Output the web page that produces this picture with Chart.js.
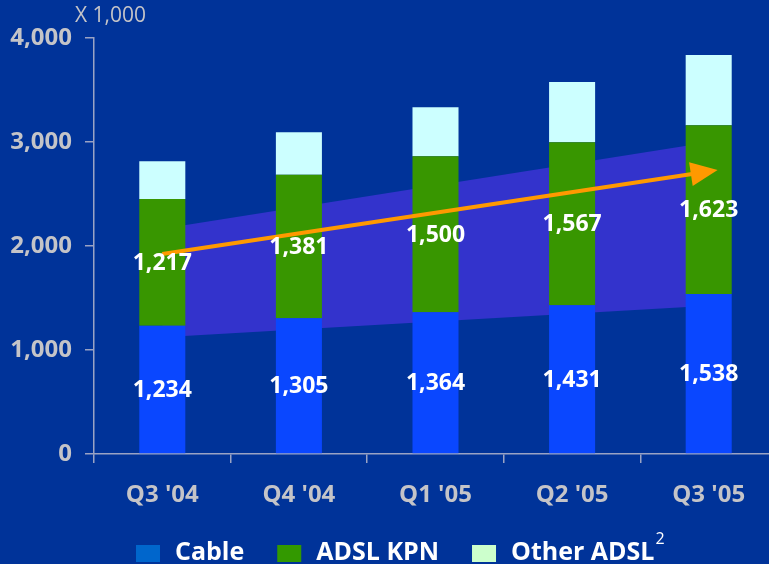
<!DOCTYPE html>
<html>
<head>
<meta charset="utf-8">
<script src="https://cdn.jsdelivr.net/npm/chart.js@4"></script>
<style>
    html, body { margin: 0; padding: 0; background: #003399; overflow: hidden; }
    #wrap { width: 800px; height: 564px; }
</style>
</head>
<body>
<div id="wrap"><canvas id="chart" width="800" height="564"></canvas></div>
<script>
const quarters = ["Q3 '04", "Q4 '04", "Q1 '05", "Q2 '05", "Q3 '05"];
const cable = [1234, 1305, 1364, 1431, 1538];
const adslKpn = [1217, 1381, 1500, 1567, 1623];
const otherAdsl = [363, 408, 471, 578, 675];
const yTicks = [0, 1000, 2000, 3000, 4000];

// growth band and trend arrow, from first to last quarter
const bandTop = [2167, 2998];
const bandBottom = [1122, 1426];
const trend = [1923, 2717];

const FONT = "'Open Sans', 'DejaVu Sans', sans-serif";
const GREY = '#c4c4c8';
const AXIS = '#9aa3c4';

function ends(values) {
    return [
        { x: quarters[0], y: values[0] },
        { x: quarters[quarters.length - 1], y: values[1] }
    ];
}

const valueLabels = {
    id: 'valueLabels',
    afterDatasetsDraw(chart) {
        const ctx = chart.ctx;
        ctx.save();
        ctx.font = `bold 23px ${FONT}`;
        ctx.fillStyle = '#ffffff';
        ctx.textAlign = 'center';
        ctx.textBaseline = 'middle';
        [0, 1].forEach(i => {
            const meta = chart.getDatasetMeta(i);
            meta.data.forEach((bar, j) => {
                const v = chart.data.datasets[i].data[j];
                ctx.fillText(v.toLocaleString('en-US'), bar.x, (bar.y + bar.base) / 2 + 1);
            });
        });
        ctx.restore();
    }
};

const arrowHead = {
    id: 'arrowHead',
    afterDatasetsDraw(chart) {
        const idx = chart.data.datasets.findIndex(d => d.label === 'trend');
        const pts = chart.getDatasetMeta(idx).data;
        const a = pts[0], b = pts[pts.length - 1];
        const ang = Math.atan2(b.y - a.y, b.x - a.x);
        const ctx = chart.ctx;
        const tipX = b.x + Math.cos(ang) * 9, tipY = b.y + Math.sin(ang) * 9;
        const len = 27, half = 12;
        const bx = tipX - Math.cos(ang) * len, by = tipY - Math.sin(ang) * len;
        ctx.save();
        ctx.fillStyle = '#ff9900';
        ctx.beginPath();
        ctx.moveTo(tipX, tipY);
        ctx.lineTo(bx - Math.sin(ang) * half, by + Math.cos(ang) * half);
        ctx.lineTo(bx + Math.sin(ang) * half, by - Math.cos(ang) * half);
        ctx.closePath();
        ctx.fill();
        ctx.restore();
    }
};

const extras = {
    id: 'extras',
    afterDraw(chart) {
        const ctx = chart.ctx;
        ctx.save();
        // unit note
        ctx.font = `21px ${FONT}`;
        ctx.fillStyle = GREY;
        ctx.textBaseline = 'middle';
        ctx.fillText('X 1,000', 75, 16);

        // legend
        const items = chart.data.datasets.filter(d => d.legendColor);
        let x = 136;
        const y = 553;
        items.forEach(d => {
            ctx.fillStyle = d.legendColor;
            ctx.fillRect(x, y - 8, 24, 17);
            x += 39;
            ctx.fillStyle = '#ffffff';
            ctx.font = `bold 25px ${FONT}`;
            ctx.fillText(d.label, x, y);
            x += ctx.measureText(d.label).width;
            if (d.note) {
                ctx.font = `16px ${FONT}`;
                ctx.fillText(d.note, x + 1, y - 14);
                x += ctx.measureText(d.note).width + 1;
            }
            x += 33;
        });
        ctx.restore();
    }
};

new Chart(document.getElementById('chart'), {
    type: 'bar',
    data: {
        labels: quarters,
        datasets: [
            {
                label: 'Cable', data: cable, backgroundColor: '#0a47ff',
                legendColor: '#0066cc', stack: 'bars', order: 1
            },
            {
                label: 'ADSL KPN', data: adslKpn, backgroundColor: '#389600',
                legendColor: '#339900', stack: 'bars', order: 1
            },
            {
                label: 'Other ADSL', note: '2', data: otherAdsl, backgroundColor: '#ccffff',
                legendColor: '#ccffcc', stack: 'bars', order: 1
            },
            {
                type: 'line', label: 'bandTop', data: ends(bandTop), stack: 'bandTop',
                borderWidth: 0, pointRadius: 0, fill: '+1', backgroundColor: '#3333cc', order: 2
            },
            {
                type: 'line', label: 'bandBottom', data: ends(bandBottom), stack: 'bandBottom',
                borderWidth: 0, pointRadius: 0, fill: false, order: 2
            },
            {
                type: 'line', label: 'trend', data: ends(trend), stack: 'trend',
                borderColor: '#ff9900', borderWidth: 4, pointRadius: 0, fill: false, order: 0
            }
        ]
    },
    options: {
        responsive: false,
        animation: false,
        devicePixelRatio: 1,
        layout: { padding: { top: 38, right: 23, left: 0, bottom: 0 } },
        plugins: {
            legend: { display: false },
            tooltip: { enabled: false }
        },
        datasets: {
            bar: { barPercentage: 0.337, categoryPercentage: 1 }
        },
        scales: {
            x: {
                stacked: true,
                afterFit: s => { s.height = 110; },
                grid: { drawOnChartArea: false, color: AXIS, tickLength: 9, lineWidth: 1.5 },
                border: { color: AXIS, width: 1.5 },
                ticks: { color: GREY, padding: 18, font: { family: FONT, size: 24, weight: 'bold' } }
            },
            y: {
                stacked: true,
                min: yTicks[0],
                max: yTicks[yTicks.length - 1],
                afterFit: s => { s.width = 94; },
                afterBuildTicks: s => { s.ticks = yTicks.map(v => ({ value: v })); },
                grid: { drawOnChartArea: false, color: AXIS, tickLength: 9, lineWidth: 1.5 },
                border: { color: AXIS, width: 1.5 },
                ticks: {
                    color: GREY, padding: 13,
                    font: { family: FONT, size: 24, weight: 'bold' },
                    callback: v => v.toLocaleString('en-US')
                }
            }
        }
    },
    plugins: [valueLabels, arrowHead, extras]
});
</script>
</body>
</html>
